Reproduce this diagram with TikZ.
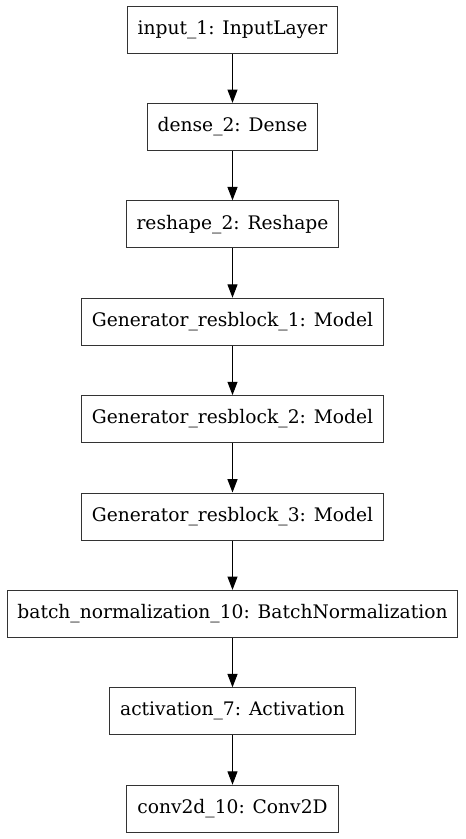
\documentclass[tikz,border=0pt]{standalone}
\usepackage{fontspec}
\setmainfont{DejaVu Serif}
\usetikzlibrary{positioning,arrows.meta}

\begin{document}
\begin{tikzpicture}[x=0.75pt,y=-0.75pt,align=center,node distance=73.05pt,
	layer/.style={rectangle,draw=black!80,line width=0.75pt,minimum height=35.25pt,inner xsep=7.8pt,font=\fontsize{14}{16}\selectfont},
	flow/.style={-{Triangle[length=10pt,width=7.5pt]},black,line width=0.75pt}]
	\useasboundingbox (0,0) rectangle (465,839);

	\node[layer] (lInput) at (232.5,29.5) {input\_1: InputLayer};

	\node[layer, below of=lInput] (lDense)  {dense\_2: Dense};
		\path[flow] (lInput) edge (lDense);

	\node[layer, below of=lDense] (lReshape)  {reshape\_2: Reshape};
		\path[flow] (lDense) edge (lReshape);

	\node[layer, below of=lReshape] (lResOne)  {Generator\_resblock\_1: Model};
		\path[flow] (lReshape) edge (lResOne);

	\node[layer, below of=lResOne] (lResTwo)  {Generator\_resblock\_2: Model};
		\path[flow] (lResOne) edge (lResTwo);

	\node[layer, below of=lResTwo] (lResThree)  {Generator\_resblock\_3: Model};
		\path[flow] (lResTwo) edge (lResThree);

	\node[layer, below of=lResThree] (lBatch)  {batch\_normalization\_10: BatchNormalization};
		\path[flow] (lResThree) edge (lBatch);

	\node[layer, below of=lBatch] (lActivation)  {activation\_7: Activation};
		\path[flow] (lBatch) edge (lActivation);

	\node[layer, below of=lActivation] (lConv)  {conv2d\_10: Conv2D};
		\path[flow] (lActivation) edge (lConv);
\end{tikzpicture}
\end{document}
